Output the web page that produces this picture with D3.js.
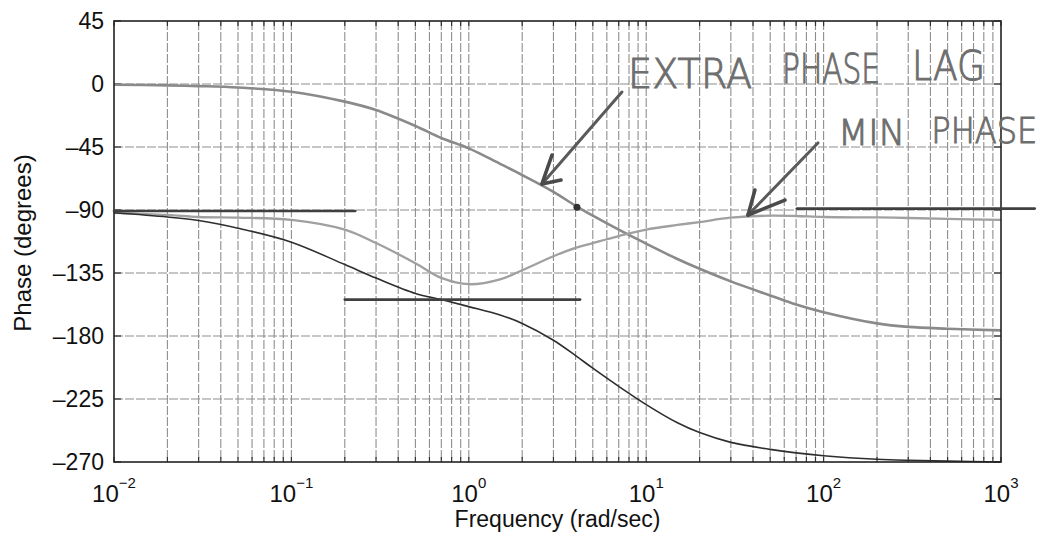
<!DOCTYPE html>
<html>
<head>
<meta charset="utf-8">
<script src="https://cdn.jsdelivr.net/npm/d3@7/dist/d3.min.js"></script>
<style>
  body { margin: 0; background: #fff; }
  svg { display: block; font-family: "Liberation Sans", Arial, sans-serif; }
</style>
</head>
<body>
<div id="chart"></div>
<script>
// frequencies (rad/sec) shared by the three phase curves
const freq = [0.01, 0.02, 0.03, 0.05, 0.1, 0.2, 0.3, 0.5, 0.7, 1, 1.5, 2, 3, 4, 5, 7,
              10, 15, 20, 30, 50, 70, 100, 200, 300, 500, 1000];

// phase (degrees)
const extraLag = [-0.5, -1, -1.5, -2.5, -5.5, -12.6, -18.6, -30, -38.6, -46, -57, -65, -77, -87, -94, -104,
                  -114, -125, -132, -141, -151, -157.5, -163, -171, -173.5, -174.8, -176];
const minPhase = [-92, -93.5, -95, -95.5, -97, -104, -113.6, -128, -138.5, -143, -139.5, -133, -123, -117, -113.6, -108.6,
                  -104, -100.7, -98.6, -95.5, -94, -94.3, -95, -95.3, -95.7, -96.4, -97];
const combined = [-92, -95, -97.5, -103, -113, -129, -138.6, -149.6, -154, -159, -165, -171, -183, -194, -203, -216,
                  -229, -242, -249, -256, -261, -263.5, -265.5, -268, -268.8, -269.4, -270];

const yTicks = [45, 0, -45, -90, -135, -180, -225, -270];
const xDecades = [-2, -1, 0, 1, 2, 3];

// hand drawn asymptotes: [w start, w end, phase]
const asymptotes = [[0.01, 0.229, -90.7], [0.2, 4.24, -154], [70.8, 1549, -89]];

// hand drawn arrows: tail, tip, two barbs as [w, phase]
const arrows = [
  { tail: [7.3, -5.7], tip: [2.585, -71.4], barbs: [[2.944, -50.7], [3.31, -68.6]] },
  { tail: [92.9, -42.1], tip: [37.5, -93.6], barbs: [[41.0, -75.7], [60.6, -82.9]] }
];
const dot = [4.07, -88];

// handwritten words: text, w start, baseline phase, width in px, font size
const notes = [
  ["EXTRA", 7.9, -2.9, 124, 40],
  ["PHASE", 58.3, 0.7, 98, 40],
  ["LAG", 315, 2.9, 73, 40],
  ["MIN", 120.5, -43.6, 67, 36],
  ["PHASE", 405, -42.1, 106, 36]
];

const W = 1050, H = 540;
const x = d3.scaleLog().domain([0.01, 1000]).range([114, 1001]);
const y = d3.scaleLinear().domain([-270, 45]).range([462, 21]);

const svg = d3.select("#chart").append("svg")
  .attr("width", W)
  .attr("height", H);

// grid
const minorX = [];
for (let e = -2; e < 3; e++) {
  for (let k = 1; k < 10; k++) minorX.push(k * Math.pow(10, e));
}
minorX.push(1000);

const grid = svg.append("g").attr("stroke", "#8e8e8e").attr("stroke-width", 1.1)
  .attr("stroke-dasharray", "9,2");
grid.selectAll(".vgrid")
  .data(minorX.filter(d => d > 0.01 && d < 1000))
  .enter().append("line")
  .attr("x1", d => x(d)).attr("x2", d => x(d))
  .attr("y1", y(45)).attr("y2", y(-270));
grid.selectAll(".hgrid")
  .data(yTicks.filter(d => d > -270 && d < 45))
  .enter().append("line")
  .attr("x1", x(0.01)).attr("x2", x(1000))
  .attr("y1", d => y(d)).attr("y2", d => y(d));

// ticks inside the frame
const ticks = svg.append("g").attr("stroke", "#333").attr("stroke-width", 1.2);
minorX.forEach(d => {
  const len = 5;
  ticks.append("line").attr("x1", x(d)).attr("x2", x(d)).attr("y1", y(-270)).attr("y2", y(-270) - len);
  ticks.append("line").attr("x1", x(d)).attr("x2", x(d)).attr("y1", y(45)).attr("y2", y(45) + len);
});
yTicks.forEach(d => {
  ticks.append("line").attr("x1", x(0.01)).attr("x2", x(0.01) + 7).attr("y1", y(d)).attr("y2", y(d));
  ticks.append("line").attr("x1", x(1000)).attr("x2", x(1000) - 7).attr("y1", y(d)).attr("y2", y(d));
});

// y axis labels
svg.append("g")
  .attr("transform", `translate(${x(0.01)},0)`)
  .call(d3.axisLeft(y).tickValues(yTicks).tickSize(0).tickPadding(10)
    .tickFormat(d => d < 0 ? "\u2013" + (-d) : d))
  .call(g => g.select(".domain").remove())
  .selectAll("text")
  .attr("font-size", 23)
  .attr("font-family", "Liberation Sans, Arial, sans-serif")
  .attr("fill", "#111");

// x axis labels with superscript exponent
const xl = svg.append("g").attr("fill", "#111");
xDecades.forEach(e => {
  const t = xl.append("text")
    .attr("x", x(Math.pow(10, e)))
    .attr("y", 502)
    .attr("text-anchor", "middle")
    .attr("font-size", 24);
  t.append("tspan").text("10");
  t.append("tspan").attr("dy", -14).attr("font-size", 15).text(e < 0 ? "\u2212" + (-e) : e);
});

svg.append("text")
  .attr("x", (x(0.01) + x(1000)) / 2)
  .attr("y", 527)
  .attr("text-anchor", "middle")
  .attr("font-size", 23)
  .attr("fill", "#111")
  .text("Frequency (rad/sec)");

svg.append("text")
  .attr("transform", "translate(31,243) rotate(-90)")
  .attr("text-anchor", "middle")
  .attr("font-size", 24)
  .attr("fill", "#111")
  .text("Phase (degrees)");

// curves
const line = d3.line()
  .x(d => x(d[0]))
  .y(d => y(d[1]))
  .curve(d3.curveCatmullRom.alpha(0.5));

const series = [
  { values: extraLag, color: "#8a8a8a", width: 2.6 },
  { values: minPhase, color: "#a0a0a0", width: 2.3 },
  { values: combined, color: "#2e2e2e", width: 1.6 }
];
svg.append("g").selectAll("path")
  .data(series)
  .enter().append("path")
  .attr("fill", "none")
  .attr("stroke", d => d.color)
  .attr("stroke-width", d => d.width)
  .attr("d", d => line(freq.map((f, i) => [f, d.values[i]])));

// frame
svg.append("rect")
  .attr("x", x(0.01)).attr("y", y(45))
  .attr("width", x(1000) - x(0.01))
  .attr("height", y(-270) - y(45))
  .attr("fill", "none")
  .attr("stroke", "#222")
  .attr("stroke-width", 1.6);

// hand drawn annotations
const ink = svg.append("g").attr("stroke-linecap", "round");
ink.selectAll(".asym")
  .data(asymptotes)
  .enter().append("line")
  .attr("x1", d => x(d[0])).attr("x2", d => x(d[1]))
  .attr("y1", d => y(d[2])).attr("y2", d => y(d[2]))
  .attr("stroke", "#404040")
  .attr("stroke-width", 2.6);

arrows.forEach(a => {
  ink.append("line")
    .attr("x1", x(a.tail[0])).attr("y1", y(a.tail[1]))
    .attr("x2", x(a.tip[0])).attr("y2", y(a.tip[1]))
    .attr("stroke", "#5a5a5a").attr("stroke-width", 3);
  a.barbs.forEach(b => {
    ink.append("line")
      .attr("x1", x(a.tip[0])).attr("y1", y(a.tip[1]))
      .attr("x2", x(b[0])).attr("y2", y(b[1]))
      .attr("stroke", "#4a4a4a").attr("stroke-width", 3.6);
  });
});

ink.append("circle")
  .attr("cx", x(dot[0])).attr("cy", y(dot[1]))
  .attr("r", 3.5).attr("fill", "#333");

ink.selectAll(".note")
  .data(notes)
  .enter().append("text")
  .attr("x", d => x(d[1]))
  .attr("y", d => y(d[2]))
  .attr("font-family", "DejaVu Sans, sans-serif")
  .attr("font-weight", 200)
  .attr("font-size", d => d[4])
  .attr("textLength", d => d[3])
  .attr("lengthAdjust", "spacingAndGlyphs")
  .attr("fill", "#6e6e6e")
  .attr("stroke", "#6e6e6e")
  .attr("stroke-width", 1)
  .text(d => d[0]);
</script>
</body>
</html>
